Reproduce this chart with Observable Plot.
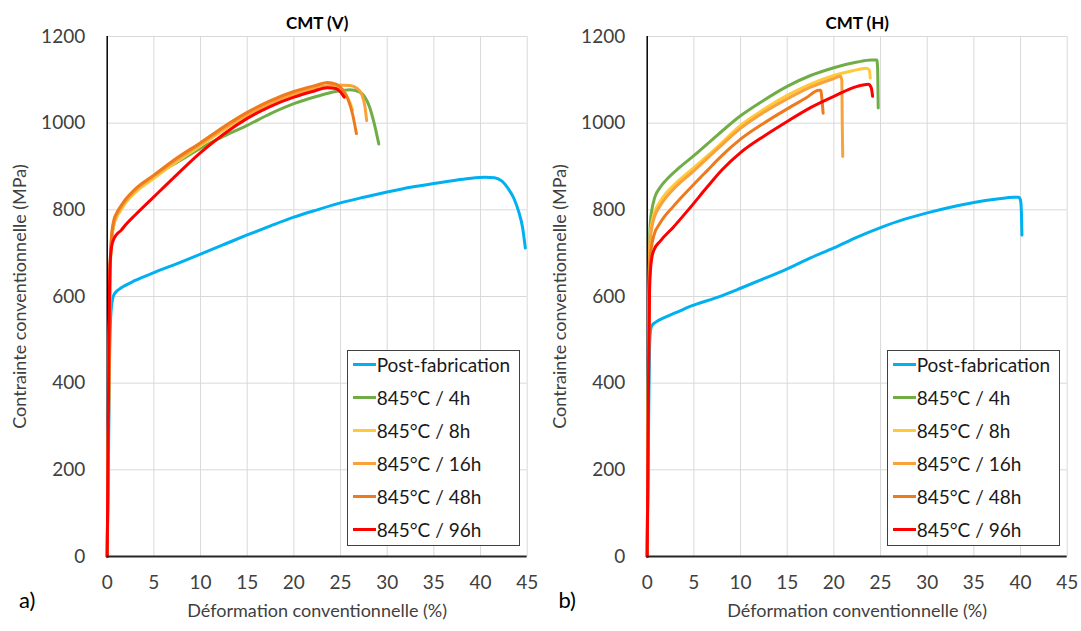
<!DOCTYPE html>
<html>
<head>
<meta charset="utf-8">
<script src="https://cdn.jsdelivr.net/npm/d3@7"></script>
<script src="https://cdn.jsdelivr.net/npm/@observablehq/plot@0.6"></script>
<style>
  html, body { margin: 0; padding: 0; background: #fff; }
  #page { position: relative; width: 1081px; height: 631px; overflow: hidden; font-family: Lato, "Open Sans", sans-serif; }
  .panel { position: absolute; top: 0; }
  .legend { position: absolute; box-sizing: border-box; border: 1px solid #404040; background: #fff; }
  .legend .row { position: absolute; height: 33px; line-height: 33px; left: 0; right: 0; font-size: 19px; color: #1a1a1a; white-space: nowrap; }
  .legend .swatch { position: absolute; left: 5px; top: 15px; width: 23px; height: 3px; }
  .legend .lab { position: absolute; left: 29px; top: 0; }
</style>
</head>
<body>
<div id="page"></div>
<script>
// ---------- data ----------
const xTicks = [0, 5, 10, 15, 20, 25, 30, 35, 40, 45];
const yTicks = [0, 200, 400, 600, 800, 1000, 1200];
const seriesNames = ["Post-fabrication", "845°C / 4h", "845°C / 8h", "845°C / 16h", "845°C / 48h", "845°C / 96h"];
const seriesColors = ["#00B0F0", "#70AD47", "#FFC93A", "#F9A13A", "#EE7A1E", "#FF0000"];
const panelTitles = ["CMT (V)", "CMT (H)"];
const panelTags = ["a)", "b)"];
const xLabel = "Déformation conventionnelle (%)";
const yLabel = "Contrainte conventionnelle (MPa)";

// CMT (V) : [strain %, stress MPa]
const vPost = [[0,0],[0.15,250],[0.25,450],[0.35,540],[0.5,585],[0.7,603],[1,612],[1.5,620],[3,637],[5,655],[7.5,676],[10,698],[12.5,720],[15,742],[17.5,763],[20,783],[22.5,800],[25,816],[27.5,829],[30,841],[32.5,852],[35,861],[37.5,869],[39,873],[40.5,875],[41.5,874],[42.3,866],[43,848],[43.6,825],[44.1,795],[44.5,760],[44.8,712]];
const v4h = [[0,0],[0.2,450],[0.3,640],[0.45,720],[0.7,765],[1,785],[1.5,803],[2,818],[3,842],[4,860],[5,876],[6.5,897],[8,916],[10,942],[12.5,970],[15,995],[17.5,1022],[20,1045],[22.5,1062],[24.5,1073],[26,1077],[27,1072],[27.6,1060],[28.1,1038],[28.6,1000],[29.1,952]];
const v8h = [[0,0],[0.2,450],[0.3,650],[0.45,725],[0.7,765],[1,782],[1.5,800],[2,817],[3,840],[5,873],[7.5,912],[10,948],[12.5,985],[15,1018],[17.5,1045],[20,1066],[22.5,1080],[24,1084],[25,1080],[25.6,1065],[26,1048],[26.3,1030]];
const v16h = [[0,0],[0.2,450],[0.3,650],[0.45,730],[0.7,770],[1,788],[1.5,806],[2,822],[3,845],[5,878],[7.5,916],[10,952],[12.5,988],[15,1020],[17.5,1047],[20,1068],[22.5,1082],[24.3,1088],[26,1087],[26.8,1080],[27.3,1065],[27.6,1040],[27.8,1006]];
const v48h = [[0,0],[0.2,460],[0.3,660],[0.45,735],[0.7,775],[1,792],[1.5,810],[2,825],[3,848],[5,880],[7.5,920],[10,955],[12.5,992],[15,1025],[17.5,1052],[20,1073],[22.5,1088],[23.6,1094],[24.5,1090],[25.2,1078],[25.8,1055],[26.3,1020],[26.7,976]];
const v96h = [[0,0],[0.15,400],[0.25,620],[0.35,690],[0.5,718],[0.7,732],[1,743],[1.5,753],[2,766],[3,788],[5,830],[7.5,882],[10,932],[12.5,975],[15,1011],[17.5,1039],[20,1060],[22,1073],[23.6,1082],[24.5,1080],[25,1072],[25.4,1060]];

// CMT (H)
const hPost = [[0,0],[0.15,300],[0.25,480],[0.35,520],[0.5,533],[1,542],[2,553],[3,562],[4.6,577],[7.5,598],[10,619],[12.5,641],[15,664],[17.5,689],[20,712],[22.5,737],[25,759],[27.5,778],[30,793],[32.5,806],[35,817],[37.5,825],[39.3,829],[39.8,829],[40,822],[40.1,790],[40.15,742]];
const h4h = [[0,0],[0.15,500],[0.25,720],[0.35,775],[0.5,800],[0.8,828],[1.4,852],[2,868],[3.2,893],[5,925],[7.5,972],[10,1017],[12.5,1053],[15,1085],[17.5,1110],[20,1128],[22.5,1141],[24,1146],[24.6,1146],[24.7,1120],[24.75,1035]];
const h8h = [[0,0],[0.15,480],[0.25,690],[0.35,745],[0.5,770],[0.8,795],[1.4,820],[2,838],[3,860],[4.6,890],[7.5,945],[10,995],[12.5,1032],[15,1064],[17.5,1090],[20,1110],[22,1121],[23.5,1127],[23.8,1122],[23.9,1104]];
const h16h = [[0,0],[0.15,470],[0.25,680],[0.35,735],[0.5,760],[0.8,785],[1.4,810],[2,828],[3,852],[5,890],[7.5,940],[10,988],[12.5,1025],[15,1056],[17.5,1083],[20,1103],[20.7,1108],[20.85,1100],[20.9,1000],[20.95,923]];
const h48h = [[0,0],[0.15,450],[0.25,640],[0.35,695],[0.5,720],[0.7,740],[1.4,770],[2.8,808],[4.6,850],[6.4,890],[8,925],[10,963],[12.5,1000],[15,1033],[17,1058],[18.4,1076],[18.6,1076],[18.7,1060],[18.85,1023]];
const h96h = [[0,0],[0.15,420],[0.25,610],[0.35,660],[0.5,690],[0.7,706],[1.4,728],[2.8,760],[4.6,805],[6.4,852],[8,892],[10,932],[12.5,970],[15,1004],[17.5,1036],[20,1062],[22.5,1085],[23.7,1090],[24,1082],[24.15,1062]];

const panelsData = [
  [vPost, v4h, v8h, v16h, v48h, v96h],
  [hPost, h4h, h8h, h16h, h48h, h96h]
];

// ---------- drawing ----------
const page = document.getElementById("page");
const W = 540, H = 631;
const M = {left: 106.7, right: 13.3, top: 36, bottom: 75};

function makePanel(series, title, tag) {
  const lines = series.map((s, i) =>
    Plot.line(s, {x: d => d[0], y: d => d[1], stroke: seriesColors[i], strokeWidth: 3, curve: "monotone-x", strokeLinejoin: "round", strokeLinecap: "round"})
  );
  return Plot.plot({
    width: W, height: H,
    marginLeft: M.left, marginRight: M.right, marginTop: M.top, marginBottom: M.bottom,
    style: {fontFamily: "Lato, sans-serif", background: "white", color: "#404040", overflow: "visible"},
    x: {domain: [0, 45], label: null},
    y: {domain: [0, 1200], label: null},
    marks: [
      Plot.gridX(xTicks.filter(d => d > 0), {stroke: "#d9d9d9", strokeOpacity: 1, strokeWidth: 1}),
      Plot.gridY(yTicks.filter(d => d > 0), {stroke: "#d9d9d9", strokeOpacity: 1, strokeWidth: 1}),
      Plot.axisX({ticks: xTicks, tickSize: 0, tickPadding: 19, fontSize: 19, label: null, fill: "#404040", tickFormat: d => String(d)}),
      Plot.axisY({ticks: yTicks, tickSize: 0, tickPadding: 22, fontSize: 19, label: null, fill: "#404040", tickFormat: d => String(d)}),
      Plot.ruleX([0], {stroke: "#000", strokeWidth: 1.5}),
      ...lines,
      Plot.ruleY([0], {stroke: "#262626", strokeWidth: 2}),
      Plot.text([title], {text: d => d, frameAnchor: "top", dy: -20, fontWeight: "bold", fontSize: 17, fill: "#000"}),
      Plot.text([xLabel], {text: d => d, frameAnchor: "bottom", dy: 60, fontSize: 18, fill: "#404040"}),
      Plot.text([yLabel], {text: d => d, frameAnchor: "left", dx: -87, rotate: -90, textAnchor: "middle", fontSize: 18, fill: "#404040"}),
      Plot.text([tag], {text: d => d, frameAnchor: "bottom-left", dx: -80, dy: 51, textAnchor: "middle", fontSize: 22, fill: "#000"})
    ]
  });
}

function makeLegend(offsetX) {
  const box = document.createElement("div");
  box.className = "legend";
  box.style.left = (offsetX + 346.7) + "px";
  box.style.top = "350px";
  box.style.width = "173.5px";
  box.style.height = "196px";
  seriesNames.forEach((name, i) => {
    const row = document.createElement("div");
    row.className = "row";
    row.style.top = (14.7 + 33 * i - 16.5 - 1) + "px";
    const sw = document.createElement("div");
    sw.className = "swatch";
    sw.style.background = seriesColors[i];
    const lab = document.createElement("div");
    lab.className = "lab";
    lab.textContent = name;
    row.appendChild(sw);
    row.appendChild(lab);
    box.appendChild(row);
  });
  return box;
}

panelsData.forEach((series, p) => {
  const wrap = document.createElement("div");
  wrap.className = "panel";
  wrap.style.left = (p * 540) + "px";
  wrap.appendChild(makePanel(series, panelTitles[p], panelTags[p]));
  page.appendChild(wrap);
  page.appendChild(makeLegend(p * 540));
});
</script>
</body>
</html>
